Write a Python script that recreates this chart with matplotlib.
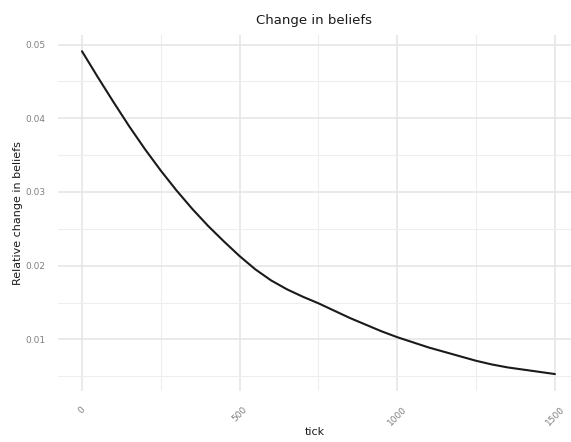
import numpy as np
import matplotlib.pyplot as plt

#----------
# Data
tick = [0, 50, 100, 150, 200, 250, 300, 350, 400, 450, 500, 550, 600, 650, 700, 750,
        800, 850, 900, 950, 1000, 1050, 1100, 1150, 1200, 1250, 1300, 1350, 1400, 1450, 1500]
change = [0.0491, 0.0456, 0.0422, 0.0389, 0.0358, 0.0329, 0.0302, 0.0277, 0.0254, 0.0233,
          0.0213, 0.0195, 0.0180, 0.0168, 0.0158, 0.0149, 0.0139, 0.0129, 0.0120, 0.0111,
          0.0103, 0.0096, 0.0089, 0.0083, 0.0077, 0.0071, 0.0066, 0.0062, 0.0059, 0.0056, 0.0053]
x_ticks = [0, 500, 1000, 1500]
x_minor = [250, 750, 1250]
y_ticks = [0.01, 0.02, 0.03, 0.04, 0.05]
y_minor = [0.005, 0.015, 0.025, 0.035, 0.045]
#----------

W, H = 571, 442
fig = plt.figure(figsize=(W / 100, H / 100), dpi=100)
ax = fig.add_axes([58 / W, 1 - 391 / H, (571 - 58) / W, (391 - 35) / H])

ax.plot(tick, change, color='#1a1a1a', lw=1.5, zorder=3,
        solid_joinstyle='round', solid_capstyle='round')

ax.set_xlim(-76, 1551)
ax.set_ylim(0.0030, 0.0513)

ax.set_xticks(x_ticks)
ax.set_xticks(x_minor, minor=True)
ax.set_yticks(y_ticks)
ax.set_yticks(y_minor, minor=True)
ax.set_xticklabels([str(t) for t in x_ticks], rotation=45)
ax.set_yticklabels([f"{t:.2f}" for t in y_ticks])

ax.grid(which='major', color='#e4e4e4', lw=1.1)
ax.grid(which='minor', color='#eeeeee', lw=0.8)
ax.set_axisbelow(True)
for s in ax.spines.values():
    s.set_visible(False)
ax.tick_params(which='both', length=0, labelsize=6.5, labelcolor='#808080')
ax.tick_params(axis='x', pad=10)
ax.tick_params(axis='y', pad=9)

ax.set_title('Change in beliefs', fontsize=9.5, color='#1a1a1a', pad=8)
ax.set_xlabel('tick', fontsize=8, color='#1a1a1a')
ax.set_ylabel('Relative change in beliefs', fontsize=8, color='#1a1a1a')
ax.xaxis.set_label_coords(0.5, (391 - 427) / 356)
ax.yaxis.set_label_coords((23 - 58) / 513, 0.5)

plt.savefig('out.png', dpi=100)
